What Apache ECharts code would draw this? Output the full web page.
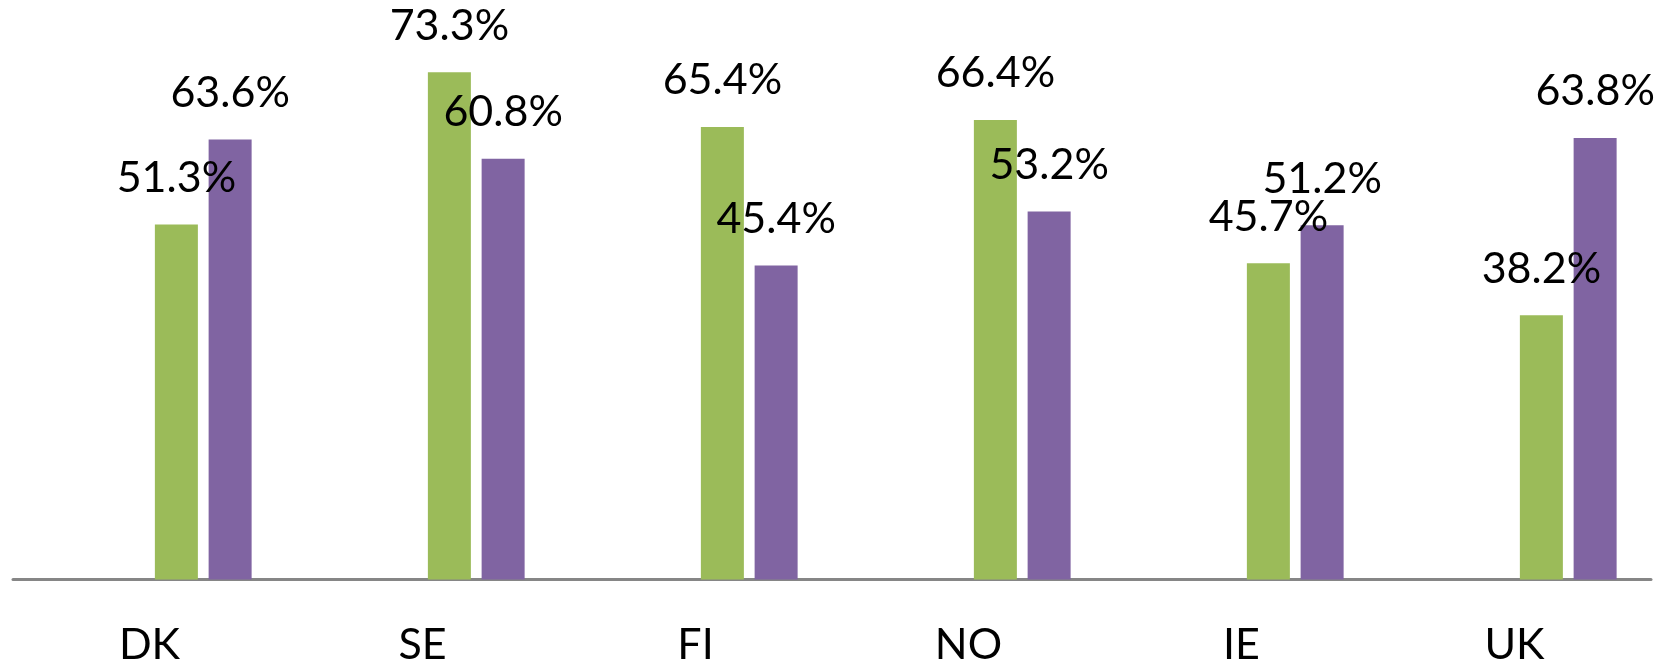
<!DOCTYPE html>
<html>
<head>
<meta charset="utf-8">
<script src="https://cdn.jsdelivr.net/npm/echarts@6/dist/echarts.min.js"></script>
<style>
html, body { margin: 0; padding: 0; background: #fff; }
#chart { width: 1671px; height: 663px; }
</style>
</head>
<body>
<div id="chart"></div>
<script>
// countries on the x axis
const countries = ['DK', 'SE', 'FI', 'NO', 'IE', 'UK'];
// green series (%)
const greenValues = [51.3, 73.3, 65.4, 66.4, 45.7, 38.2];
// purple series (%)
const purpleValues = [63.6, 60.8, 45.4, 53.2, 51.2, 63.8];

const myChart = echarts.init(document.getElementById('chart'));

const labelStyle = {
  show: true,
  position: 'top',
  distance: 25,
  formatter: '{c}%',
  color: '#000',
  fontFamily: 'Lato',
  fontSize: 43,
  lineHeight: 43
};

const option = {
  animation: false,
  grid: {
    left: 13,
    right: 20,
    top: 26,
    bottom: 83.5,
    containLabel: false,
    outerBoundsMode: 'none'
  },
  xAxis: {
    type: 'category',
    data: countries,
    axisLine: { lineStyle: { color: '#868686', width: 3 } },
    axisTick: { show: false },
    axisLabel: {
      color: '#000',
      fontFamily: 'Lato',
      fontSize: 43,
      lineHeight: 43,
      margin: 44
    }
  },
  yAxis: {
    type: 'value',
    min: 0,
    max: 80,
    show: false,
    splitLine: { show: false }
  },
  series: [
    // two empty series keep the Excel slot layout (bars sit right of the label)
    { type: 'bar', data: [], barWidth: 43, barGap: '25%' },
    { type: 'bar', data: [], barWidth: 43, barGap: '25%' },
    {
      type: 'bar',
      data: greenValues,
      barWidth: 43,
      barGap: '25%',
      itemStyle: { color: '#9BBB59' },
      label: labelStyle
    },
    {
      type: 'bar',
      data: purpleValues,
      barWidth: 43,
      barGap: '25%',
      itemStyle: { color: '#8064A2' },
      label: labelStyle
    }
  ]
};

myChart.setOption(option);
</script>
</body>
</html>
